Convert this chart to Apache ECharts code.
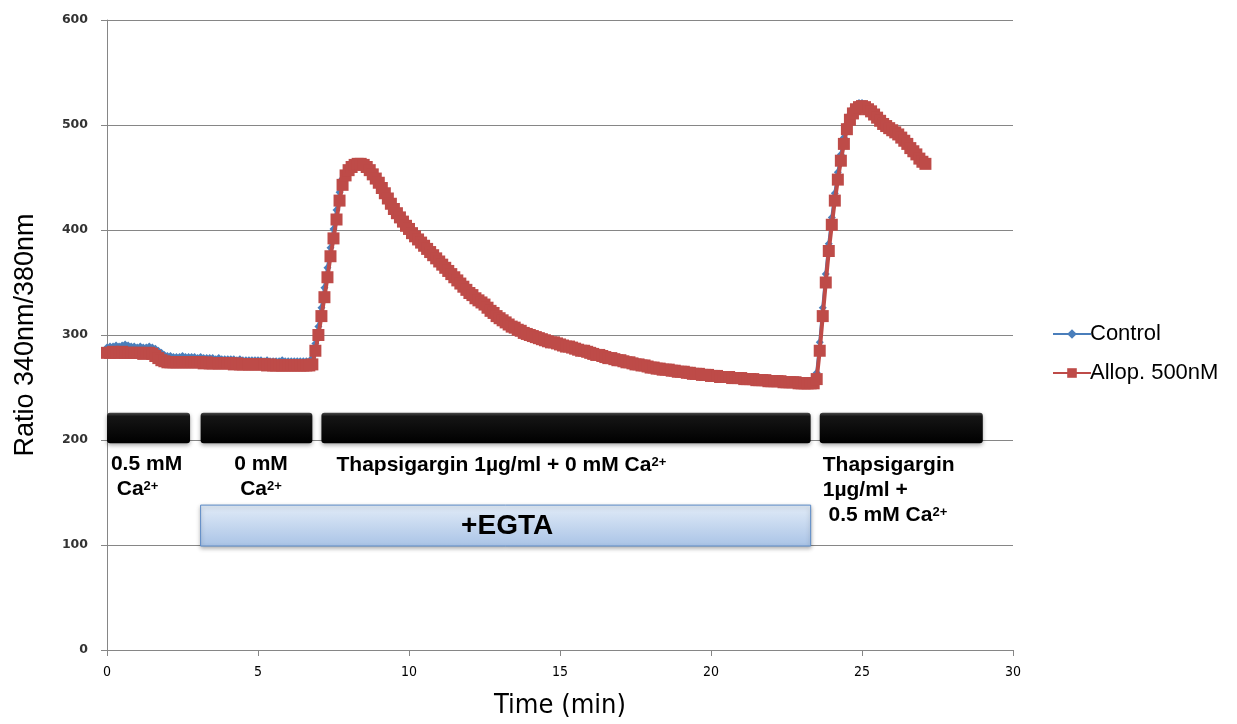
<!DOCTYPE html>
<html>
<head>
    <meta charset="utf-8">
    <title>Ratio 340nm/380nm</title>
    <script src="https://cdn.jsdelivr.net/npm/echarts@6/dist/echarts.min.js"></script>
    <style>
        html, body { margin: 0; padding: 0; background: #fff; }
        #chart { width: 1237px; height: 724px; }
    </style>
</head>
<body>
<div id="chart"></div>
<script>
    // sampling interval of the recordings (min)
    var sampleStep = 0.1;

    // Control, one value per sample from t = 0
    var controlValues = [
        288, 289, 289, 290, 289, 290, 291, 290, 289, 289,
        288, 289, 288, 288, 289, 288, 287, 285, 283, 281,
        280, 280, 279, 279, 279, 280, 279, 279, 279, 279,
        278, 279, 278, 278, 278, 278, 277, 278, 277, 277,
        277, 277, 277, 276, 277, 276, 276, 276, 276, 276,
        276, 276, 275, 276, 275, 275, 275, 275, 276, 275,
        275, 275, 275, 275, 275, 275, 275, 275, 278, 292,
        308, 326, 345, 364, 383, 401, 419, 436, 449, 456,
        460, 462, 463, 463, 462, 460, 457, 453, 449, 445,
        441, 436, 431, 426, 421, 416, 412, 408, 404, 400,
        397, 394, 391, 388, 385, 382, 379, 376, 373, 370,
        367, 364, 361, 358, 355, 352, 349, 346, 343, 341,
        338, 336, 334, 331, 329, 327, 325, 322, 320, 318,
        316, 314, 312, 311, 309, 307, 306, 304, 303, 302,
        300, 299, 298, 297, 297, 296, 295, 294, 293, 293,
        292, 291, 290, 290, 289, 288, 287, 287, 286, 285,
        284, 284, 283, 282, 281, 281, 280, 279, 279, 278,
        277, 277, 276, 275, 275, 274, 274, 273, 273, 272,
        271, 271, 270, 270, 269, 269, 269, 268, 268, 267,
        267, 267, 266, 266, 265, 265, 265, 264, 264, 264,
        263, 263, 263, 262, 262, 262, 262, 261, 261, 261,
        261, 260, 260, 260, 260, 259, 259, 259, 259, 258,
        258, 258, 258, 258, 257, 257, 257, 257, 257, 257,
        256, 256, 256, 256, 257, 264, 293, 326, 358, 387,
        412, 435, 455, 472, 488, 501, 510, 516, 519, 521,
        521, 520, 518, 515, 512, 509, 506, 503, 500, 498,
        496, 494, 492, 489, 486, 483, 479, 476, 472, 469,
        466, 463
    ];

    // Allop. 500nM, one value per sample from t = 0
    var allopValues = [
        283, 283, 284, 283, 283, 284, 283, 283, 283, 283,
        283, 283, 282, 283, 283, 282, 280, 278, 276, 275,
        274, 274, 274, 274, 274, 274, 274, 274, 274, 274,
        274, 274, 273, 274, 273, 273, 273, 273, 273, 273,
        273, 273, 272, 273, 272, 272, 272, 272, 272, 272,
        272, 272, 272, 271, 272, 271, 271, 271, 271, 271,
        271, 271, 271, 271, 271, 271, 271, 271, 272, 285,
        300, 318, 336, 355, 375, 392, 410, 428, 443, 452,
        457, 460, 462, 463, 463, 462, 460, 457, 453, 449,
        445, 440, 435, 430, 425, 420, 416, 412, 408, 404,
        401, 397, 394, 391, 388, 385, 382, 379, 376, 373,
        370, 367, 364, 361, 358, 355, 352, 349, 346, 343,
        340, 338, 335, 333, 331, 329, 326, 323, 321, 318,
        316, 314, 312, 310, 308, 307, 305, 304, 302, 301,
        300, 299, 298, 297, 296, 295, 294, 293, 293, 292,
        291, 290, 289, 289, 288, 287, 286, 285, 285, 284,
        283, 282, 281, 281, 280, 279, 278, 278, 277, 276,
        276, 275, 274, 274, 273, 272, 272, 271, 271, 270,
        269, 269, 268, 268, 267, 267, 267, 266, 266, 265,
        265, 265, 264, 264, 263, 263, 263, 262, 262, 262,
        261, 261, 261, 260, 260, 260, 260, 259, 259, 259,
        259, 258, 258, 258, 258, 257, 257, 257, 257, 256,
        256, 256, 256, 256, 255, 255, 255, 255, 255, 254,
        254, 254, 254, 254, 254, 258, 285, 318, 350, 380,
        405, 428, 448, 466, 482, 496, 505, 511, 515, 517,
        518, 517, 515, 513, 510, 507, 504, 501, 499, 497,
        495, 493, 491, 488, 485, 482, 478, 475, 472, 468,
        465, 463
    ];

    // treatment phases (min): black bars between 197 and 226 on the ratio scale
    var phaseBars = [[0, 2.75], [3.1, 6.8], [7.1, 23.3], [23.6, 29.0]];
    var phaseBand = [197, 226];
    // EGTA period
    var egtaSpan = [3.1, 23.3];
    var egtaBand = [99, 138];

    // annotation texts and their anchors [min, ratio]
    var noteTexts = [
        '0.5 mM\n Ca{sup|2+}',
        '0 mM\nCa{sup|2+}',
        'Thapsigargin 1µg/ml + 0 mM Ca{sup|2+}',
        'Thapsigargin\n1µg/ml +\n 0.5 mM Ca{sup|2+}',
        '+EGTA'
    ];
    var noteAnchors = [[0.13, 189], [5.1, 189], [7.6, 187.5], [23.7, 187.5], [13.25, 118]];
    var noteAlign = ['left', 'center', 'left', 'left', 'center'];

    var chart = echarts.init(document.getElementById('chart'));

    var controlData = [], allopData = [];
    for (var i = 0; i < controlValues.length; i++) {
        controlData.push([+(i * sampleStep).toFixed(1), controlValues[i]]);
    }
    for (var j = 0; j < allopValues.length; j++) {
        allopData.push([+(j * sampleStep).toFixed(1), allopValues[j]]);
    }

    var axisGray = '#868686';
    var textFont = "'Liberation Sans', Arial, sans-serif";
    var narrowFont = "'Liberation Sans Narrow', 'DejaVu Sans Condensed', sans-serif";

    var option = {
        animation: false,
        backgroundColor: '#fff',
        grid: { left: 107, right: 224, top: 20, bottom: 69, containLabel: false },
        legend: {
            data: ['Control', 'Allop. 500nM'],
            orient: 'vertical',
            left: 1047,
            top: 318,
            itemWidth: 38,
            itemHeight: 12,
            itemGap: 17,
            textStyle: { fontFamily: textFont, fontSize: 22, color: '#000', padding: [0, 0, 0, -6] }
        },
        xAxis: {
            type: 'value',
            min: 0, max: 30, interval: 5,
            name: 'Time (min)',
            nameLocation: 'middle',
            nameGap: 42,
            nameTextStyle: { fontFamily: narrowFont, fontSize: 27, color: '#000' },
            axisLine: { lineStyle: { color: axisGray } },
            axisTick: { length: 6, lineStyle: { color: axisGray } },
            axisLabel: { margin: 15, fontFamily: narrowFont, fontSize: 14, color: '#000' },
            splitLine: { show: false }
        },
        yAxis: {
            type: 'value',
            min: 0, max: 600, interval: 100,
            name: 'Ratio 340nm/380nm',
            nameLocation: 'middle',
            nameGap: 68,
            nameTextStyle: { fontFamily: textFont, fontSize: 27, color: '#000' },
            axisLine: { show: true, lineStyle: { color: axisGray } },
            axisTick: { show: true, length: 6, lineStyle: { color: axisGray } },
            axisLabel: { margin: 19, fontFamily: "'DejaVu Sans', Verdana, sans-serif", fontWeight: 'bold', fontSize: 12.5, color: '#333' },
            splitLine: { lineStyle: { color: axisGray } }
        },
        series: [
            {
                name: 'phases',
                type: 'custom',
                clip: false,
                silent: true,
                z: 3,
                data: phaseBars,
                encode: { x: [0, 1] },
                renderItem: function (params, api) {
                    var a = api.coord([api.value(0), phaseBand[1]]);
                    var b = api.coord([api.value(1), phaseBand[0]]);
                    return {
                        type: 'rect',
                        shape: { x: a[0], y: a[1], width: b[0] - a[0], height: b[1] - a[1], r: 3 },
                        style: {
                            fill: new echarts.graphic.LinearGradient(0, 0, 0, 1, [
                                { offset: 0, color: '#4a4a4a' },
                                { offset: 0.12, color: '#151515' },
                                { offset: 1, color: '#000' }
                            ]),
                            shadowBlur: 4,
                            shadowOffsetY: 2,
                            shadowColor: 'rgba(0,0,0,0.35)'
                        }
                    };
                }
            },
            {
                name: 'egta',
                type: 'custom',
                clip: false,
                silent: true,
                z: 3,
                data: [egtaSpan],
                encode: { x: [0, 1] },
                renderItem: function (params, api) {
                    var a = api.coord([api.value(0), egtaBand[1]]);
                    var b = api.coord([api.value(1), egtaBand[0]]);
                    return {
                        type: 'rect',
                        shape: { x: a[0], y: a[1], width: b[0] - a[0], height: b[1] - a[1] },
                        style: {
                            fill: new echarts.graphic.LinearGradient(0, 0, 0, 1, [
                                { offset: 0, color: '#e2ecf8' },
                                { offset: 1, color: '#a9c3e6' }
                            ]),
                            stroke: '#5b8ac6',
                            lineWidth: 1,
                            shadowBlur: 4,
                            shadowOffsetY: 2,
                            shadowColor: 'rgba(0,0,0,0.3)'
                        }
                    };
                }
            },
            {
                name: 'notes',
                type: 'custom',
                clip: false,
                silent: true,
                z: 4,
                data: noteAnchors,
                renderItem: function (params, api) {
                    var p = api.coord([api.value(0), api.value(1)]);
                    var k = params.dataIndex;
                    var isEgta = k === 4;
                    return {
                        type: 'text',
                        x: p[0],
                        y: p[1],
                        style: {
                            text: noteTexts[k],
                            fill: '#000',
                            fontFamily: textFont,
                            fontWeight: 'bold',
                            fontSize: isEgta ? 28 : 21,
                            lineHeight: 25,
                            align: noteAlign[k],
                            verticalAlign: isEgta ? 'middle' : 'top',
                            rich: {
                                sup: { fontSize: 13, fontWeight: 'bold', fontFamily: textFont, fill: '#000', lineHeight: 25, verticalAlign: 'top', padding: [3, 0, 0, 0] }
                            }
                        }
                    };
                }
            },
            {
                name: 'Control',
                type: 'line',
                data: controlData,
                symbol: 'diamond',
                symbolSize: 8,
                showAllSymbol: true,
                z: 5,
                color: '#4a7ebb',
                lineStyle: { width: 3, color: '#4a7ebb' },
                itemStyle: { color: '#4a7ebb' }
            },
            {
                name: 'Allop. 500nM',
                type: 'line',
                data: allopData,
                symbol: 'rect',
                symbolSize: 12,
                showAllSymbol: true,
                z: 6,
                color: '#be4b48',
                lineStyle: { width: 4, color: '#be4b48' },
                itemStyle: { color: '#be4b48' }
            }
        ]
    };

    chart.setOption(option);
</script>
</body>
</html>
